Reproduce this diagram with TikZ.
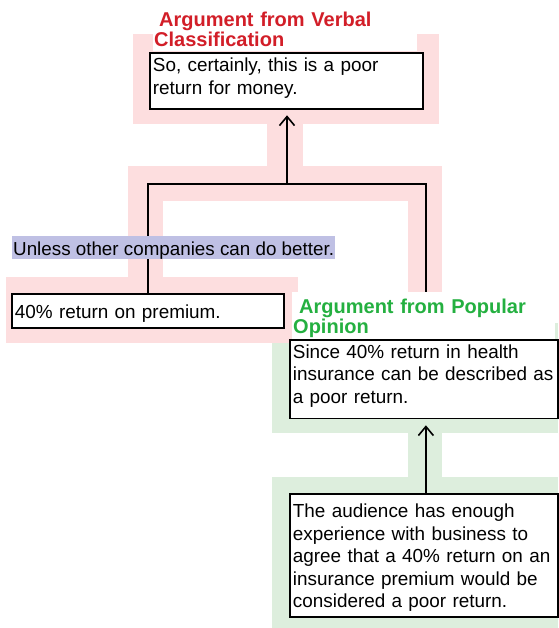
\documentclass[tikz,border=0pt]{standalone}
\usepackage{fontspec}
\setmainfont{Liberation Sans}
\usetikzlibrary{arrows.meta}

\definecolor{bandpink}{RGB}{253,222,223}
\definecolor{bandgreen}{RGB}{221,238,221}
\definecolor{hilite}{RGB}{191,192,228}
\definecolor{titlered}{RGB}{210,30,40}
\definecolor{titlegreen}{RGB}{36,176,64}

% struts that fix the space above the first baseline and below the last one
\newcommand\toppad[1]{\rule{0pt}{#1}}
\newcommand\botpad[1]{\rule[-#1]{0pt}{#1}}

\tikzset{
  claim/.style={draw=black, line width=1.8pt, fill=white, anchor=north west,
    inner xsep=3pt, inner ysep=0pt, align=left,
    font=\fontsize{18.9}{22.5}\selectfont},
  scheme/.style={fill=white, anchor=north west, inner xsep=1pt, inner ysep=0pt,
    align=left, font=\bfseries\fontsize{20}{20.5}\selectfont},
  premise/.style={fill=hilite, anchor=north west, inner xsep=1pt, inner ysep=0pt,
    font=\fontsize{18.8}{22.5}\selectfont},
  link/.style={line width=1.6pt},
  support/.style={link, -{Straight Barb[length=9pt,width=15pt]}},
}

\begin{document}
\begin{tikzpicture}[x=1pt,y=-1pt]
\useasboundingbox (0,0) rectangle (558,628);

% green band: argument from popular opinion
\fill[bandgreen] (272,323) rectangle (558,433);
\fill[bandgreen] (408,433) rectangle (442,477);
\fill[bandgreen] (272,477) rectangle (558,628);

% pink band: argument from verbal classification
\fill[bandpink] (133,34) rectangle (439,124);
\fill[bandpink] (267,124) rectangle (303,166);
\fill[bandpink] (128,166) rectangle (442,201);
\fill[bandpink] (128,201) rectangle (163,277);
\fill[bandpink] (408,201) rectangle (442,292);
\fill[bandpink] (6,277) rectangle (298,343);

% scheme titles
\node[scheme, text=titlered, text width=262pt] (T1) at (153,4)
  {\toppad{22pt}\hspace*{5pt}Argument from Verbal\\Classification\botpad{4pt}};
\node[scheme, text=titlegreen, text width=261pt] (T2) at (292,292)
  {\toppad{21pt}\hspace*{6pt}Argument from Popular\\Opinion\botpad{5pt}};

% claims
\node[claim, text width=267pt] (B1) at (149,52)
  {\toppad{19pt}So, certainly, this is a poor\\return for money.\botpad{15pt}};
\node[claim, text width=266pt] (B2) at (11,293)
  {\toppad{25pt}40\% return on premium.\botpad{9pt}};
\node[claim, text width=262pt] (B3) at (289,339)
  {\toppad{18.5pt}Since 40\% return in health\\insurance can be described as\\a poor return.\botpad{15pt}};
\node[claim, text width=262pt] (B4) at (289,493)
  {\toppad{24pt}The audience has enough\\experience with business to\\agree that a 40\% return on an\\insurance premium would be\\considered a poor return.\botpad{9pt}};

% connectors
\coordinate (J) at (287,184);
\coordinate (JR) at (426,184);
\draw[link] (B2.north) |- (JR) -- (JR |- T2.north);
\draw[support, shorten >=5pt] (J) -- (J |- B1.south);
\path (B4.north) ++(2,0) coordinate (K);
\draw[support, shorten >=6pt] (K) -- (K |- B3.south);

% rebuttal, laid over the left leg of the pink scheme
\node[premise] (U) at (12,236)
  {\toppad{19pt}\makebox[321pt][l]{Unless other companies can do better.}\botpad{4pt}};
\end{tikzpicture}
\end{document}
